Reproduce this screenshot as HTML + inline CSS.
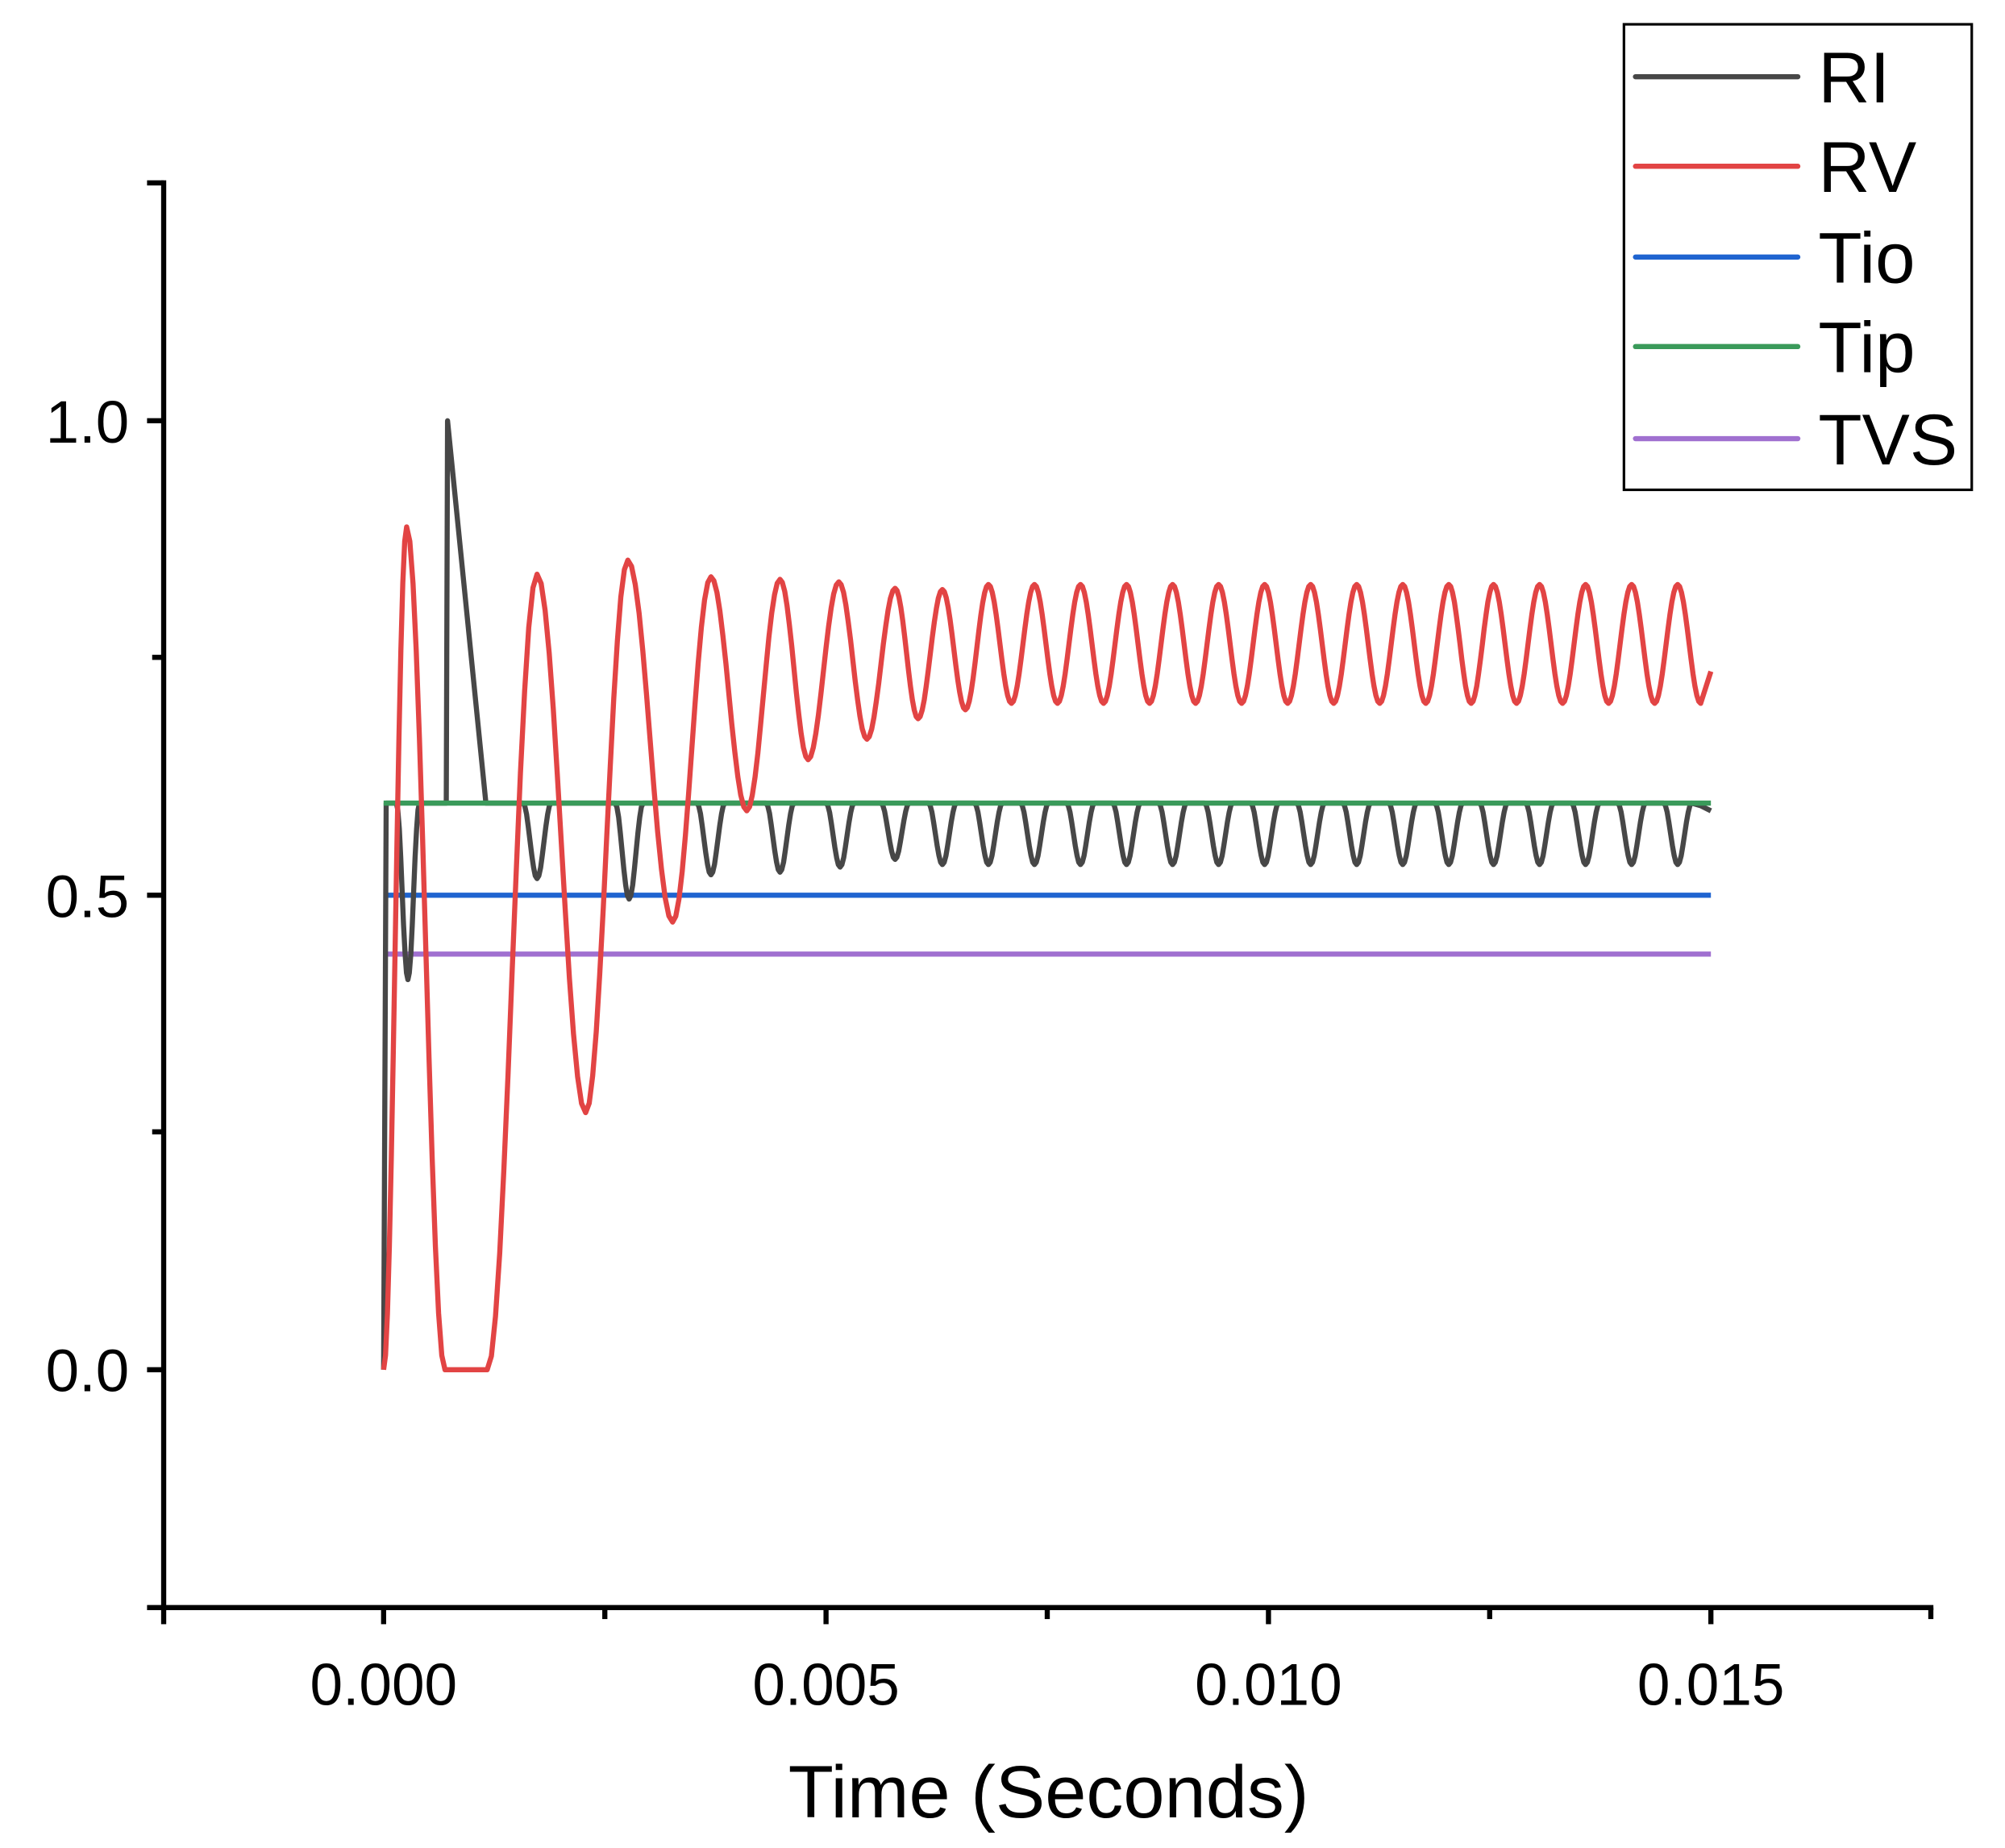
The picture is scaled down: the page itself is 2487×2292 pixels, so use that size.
<!DOCTYPE html>
<html><head><meta charset="utf-8"><style>
html,body{margin:0;padding:0;background:#fff}
svg{display:block}
text{font-family:"Liberation Sans",Arial,sans-serif;fill:#000}
</style></head><body>
<svg id="s" width="2487" height="2292" viewBox="0 0 1568 1445" preserveAspectRatio="none" xmlns="http://www.w3.org/2000/svg">
<rect width="1568" height="1445" fill="#fff"/>
<g stroke="#000" stroke-width="4" fill="none">
<line x1="128" y1="141" x2="128" y2="1259"/>
<line x1="126" y1="1257" x2="1512" y2="1257"/>
<line x1="115" y1="143" x2="128" y2="143"/>
<line x1="115" y1="329" x2="128" y2="329"/>
<line x1="119" y1="514" x2="128" y2="514"/>
<line x1="115" y1="700" x2="128" y2="700"/>
<line x1="119" y1="885" x2="128" y2="885"/>
<line x1="115" y1="1071" x2="128" y2="1071"/>
<line x1="115" y1="1257" x2="128" y2="1257"/>
<line x1="128" y1="1257" x2="128" y2="1270"/>
<line x1="300" y1="1257" x2="300" y2="1270"/>
<line x1="473" y1="1257" x2="473" y2="1266"/>
<line x1="646" y1="1257" x2="646" y2="1270"/>
<line x1="819" y1="1257" x2="819" y2="1266"/>
<line x1="992" y1="1257" x2="992" y2="1270"/>
<line x1="1165" y1="1257" x2="1165" y2="1266"/>
<line x1="1338" y1="1257" x2="1338" y2="1270"/>
<line x1="1510" y1="1257" x2="1510" y2="1266"/>
</g>
<g font-size="47" text-anchor="end">
<text x="101" y="346">1.0</text>
<text x="101" y="717">0.5</text>
<text x="101" y="1088">0.0</text>
</g>
<g font-size="46" text-anchor="middle">
<text x="300" y="1333">0.000</text>
<text x="646" y="1333">0.005</text>
<text x="992" y="1333">0.010</text>
<text x="1338" y="1333">0.015</text>
</g>
<text x="820" y="1421" font-size="58" text-anchor="middle">Time (Seconds)</text>
<line x1="300" y1="746" x2="1338" y2="746" stroke="#a070d0" stroke-width="4"/>
<line x1="300" y1="700" x2="1338" y2="700" stroke="#1f64d0" stroke-width="4"/>
<path id="ri" fill="none" stroke="#474747" stroke-width="4" stroke-linejoin="round"/>
<line x1="300" y1="628" x2="1338" y2="628" stroke="#3a9a5a" stroke-width="4"/>
<path id="rv" fill="none" stroke="#e24444" stroke-width="4" stroke-linejoin="round"/>
<rect x="1270" y="19" width="272" height="364" fill="#fff" stroke="#000" stroke-width="2"/>
<g stroke-width="4" stroke-linecap="round">
<line x1="1279" y1="60" x2="1406" y2="60" stroke="#474747"/>
<line x1="1279" y1="130" x2="1406" y2="130" stroke="#e24444"/>
<line x1="1279" y1="201" x2="1406" y2="201" stroke="#1f64d0"/>
<line x1="1279" y1="271" x2="1406" y2="271" stroke="#3a9a5a"/>
<line x1="1279" y1="343" x2="1406" y2="343" stroke="#a070d0"/>
</g>
<g font-size="56">
<text x="1422" y="80">RI</text>
<text x="1422" y="150">RV</text>
<text x="1422" y="221">Tio</text>
<text x="1422" y="291">Tip</text>
<text x="1422" y="363">TVS</text>
</g>
</svg>
<script>
var ex=[[300,1071],[318,412],[348,1071],[381,1071],[420,449],[458,870],[491,438],[526,721],[556,451],[584,634],[610,453],[632,594],[656,455],[678,578],[700,460],[718,562],[737,461],[755,555]];
var peaks=[773,809,845,881,917,953,989,1025,1061,1097,1133,1168,1204,1240,1276,1312];
peaks.forEach(function(p,i){ex.push([p,457]);if(i<peaks.length-1)ex.push([(p+peaks[i+1])/2,550]);});
ex.push([1330,550]);
var d="M300,1071";
for(var i=0;i<ex.length-1;i++){var a=ex[i],b=ex[i+1];
 if(a[1]==b[1]&&a[1]==1071){d+=" L"+b[0]+","+b[1];continue;}
 for(var t=1;t<=12;t++){var f=t/12,x=a[0]+(b[0]-a[0])*f,y=a[1]+(b[1]-a[1])*(1-Math.cos(Math.PI*f))/2;d+=" L"+x.toFixed(1)+","+y.toFixed(1);}}
d+=" L1338,525";
document.getElementById('rv').setAttribute('d',d);
var r="M300,1071 L302,628 L310,628";
function dip(c,y,w){var s="";for(var t=0;t<=16;t++){var f=t/16,x=c-w/2+w*f,yy=628+(y-628)*(1-Math.cos(2*Math.PI*f))/2;s+=" L"+x.toFixed(1)+","+yy.toFixed(1);}return s;}
r+=dip(319,766,18)+" L349,628 L350,329 L380,628";
var dips=[[420,687],[492,703],[556,684],[610,682],[657,678],[700,672]];
[737,773,809,845,881,917,953,989,1025,1061,1097,1133,1168,1204,1240,1276,1312].forEach(function(p){dips.push([p,676]);});
dips.forEach(function(q){r+=" L"+(q[0]-12)+",628"+dip(q[0],q[1],22);});
r+=" L1330,630 L1338,634";
document.getElementById('ri').setAttribute('d',r);
</script>
</body></html>
